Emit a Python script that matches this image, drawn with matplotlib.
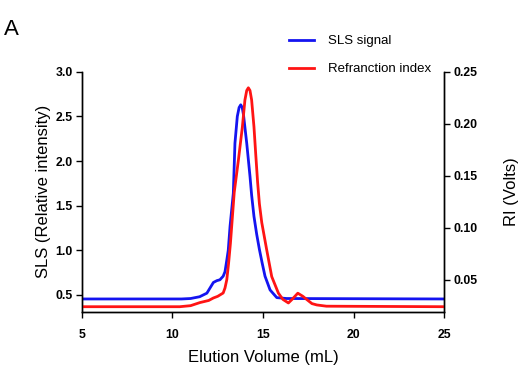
import matplotlib.pyplot as plt
from matplotlib.lines import Line2D

plt.rcParams["font.family"] = ["Liberation Sans", "DejaVu Sans"]

# SLS signal (left axis, relative intensity)
sls_volume = [5, 10.5, 11.0, 11.5, 11.9, 12.26, 12.45, 12.62, 12.8, 12.9, 13.0,
              13.08, 13.18, 13.36, 13.45, 13.58, 13.68, 13.77, 13.85, 13.92,
              14.1, 14.28, 14.37, 14.5, 14.65, 14.8, 14.95, 15.11, 15.39,
              15.76, 16.3, 25]
sls_signal = [0.455, 0.455, 0.46, 0.48, 0.52, 0.64, 0.66, 0.67, 0.71, 0.76, 0.89,
              1.0, 1.27, 1.64, 2.2, 2.5, 2.6, 2.63, 2.6, 2.52,
              2.2, 1.83, 1.62, 1.38, 1.18, 1.01, 0.86, 0.71, 0.556,
              0.47, 0.46, 0.455]

# Refraction index (right axis, volts)
ri_volume = [5, 10.4, 11.0, 11.52, 12.0, 12.26, 12.5, 12.8, 12.9, 13.0, 13.1,
             13.2, 13.41, 13.64, 13.86, 14.0, 14.1, 14.19, 14.28, 14.37, 14.5,
             14.6, 14.7, 14.8, 14.93, 15.2, 15.48, 15.85, 16.1, 16.4, 16.6,
             16.92, 17.2, 17.41, 17.7, 17.97, 18.5, 25]
ri_volts = [0.024, 0.024, 0.025, 0.028, 0.030, 0.0324, 0.034, 0.0372, 0.042,
            0.05, 0.066, 0.085, 0.134, 0.165, 0.197, 0.2228, 0.232, 0.2346,
            0.232, 0.223, 0.197, 0.17, 0.144, 0.123, 0.105, 0.079, 0.053,
            0.037, 0.031, 0.0276, 0.031, 0.037, 0.034, 0.031, 0.027, 0.0257,
            0.0245, 0.024]

x_ticks = [5, 10, 15, 20, 25]
sls_ticks = [0.5, 1.0, 1.5, 2.0, 2.5, 3.0]
ri_ticks = [0.05, 0.10, 0.15, 0.20, 0.25]

BLUE = "#1414f0"
RED = "#ff1414"

fig = plt.figure(figsize=(5.25, 3.7), dpi=100)
ax = fig.add_axes([0.156, 0.157, 0.69, 0.649])
ax2 = ax.twinx()

ax.plot(sls_volume, sls_signal, color=BLUE, lw=2.0, solid_capstyle="round")
ax2.plot(ri_volume, ri_volts, color=RED, lw=2.0, solid_capstyle="round")

ax.set_xlim(5, 25)
ax.set_ylim(0.31, 3.0)
ax2.set_ylim(0.019, 0.25)

ax.set_xticks(x_ticks)
ax.set_xticklabels([str(t) for t in x_ticks])
ax.set_yticks(sls_ticks)
ax.set_yticklabels([f"{t:.1f}" for t in sls_ticks])
ax2.set_yticks(ri_ticks)
ax2.set_yticklabels([f"{t:.2f}" for t in ri_ticks])

for a in (ax, ax2):
    a.spines["top"].set_visible(False)
    for s in a.spines.values():
        s.set_linewidth(1.0)
    a.tick_params(direction="out", length=4.5, width=1.0, labelsize=8.8, pad=2)
    for lab in a.get_xticklabels() + a.get_yticklabels():
        lab.set_fontweight("bold")
ax.tick_params(axis="x", pad=7.5)

ax.set_xlabel("Elution Volume (mL)", fontsize=12, labelpad=7)
ax.set_ylabel("SLS (Relative intensity)", fontsize=12, labelpad=3)
ax2.set_ylabel("RI (Volts)", fontsize=12, labelpad=19)

handles = [Line2D([], [], color=BLUE, lw=2.0),
           Line2D([], [], color=RED, lw=2.0)]
fig.legend(handles, ["SLS signal", "Refranction index"], loc="upper left",
           bbox_to_anchor=(0.527, 0.937), frameon=False, fontsize=9.5,
           handlelength=1.9, handletextpad=1.1, labelspacing=1.2)

fig.text(0.008, 0.905, "A", fontsize=16)

fig.savefig("out.png", dpi=100)
